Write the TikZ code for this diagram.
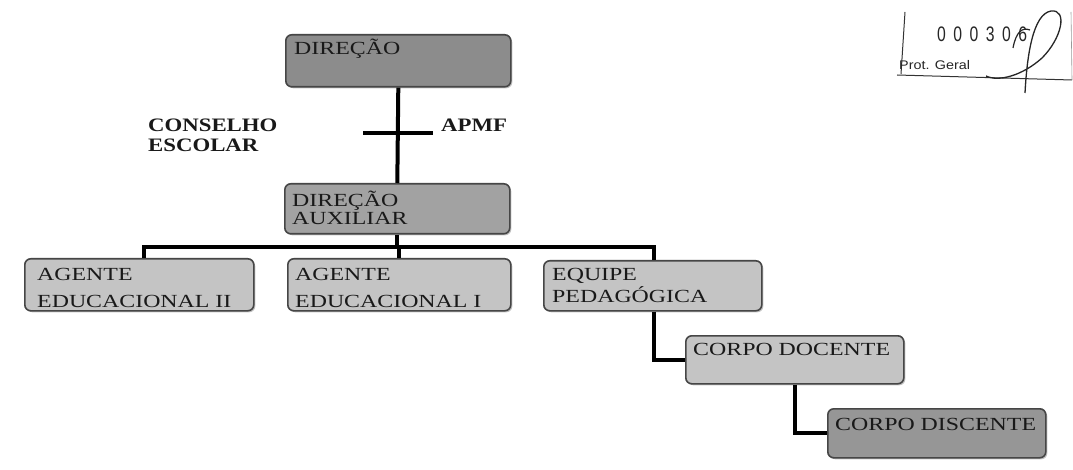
\documentclass[tikz,border=0pt]{standalone}
\usepackage{fontspec}
\setmainfont{Liberation Serif}
\newfontfamily\boxfont[FakeStretch=1.29]{Liberation Serif}
\newfontfamily\lblfont[FakeStretch=1.2]{Liberation Serif}
\newfontfamily\stampfont[FakeStretch=0.75]{Liberation Sans}
\newfontfamily\protfont[FakeStretch=1.15]{Liberation Sans}
\usetikzlibrary{shadows}
\definecolor{gdark}{RGB}{140,140,140}
\definecolor{gmid}{RGB}{162,162,162}
\definecolor{glight}{RGB}{196,196,196}
\definecolor{gdisc}{RGB}{150,150,150}
\definecolor{edge}{RGB}{70,70,70}
\tikzset{
  orgbox/.style={draw=edge, line width=1.6pt, rounded corners=6pt, anchor=north west,
    inner sep=0pt, drop shadow={shadow xshift=1.5pt, shadow yshift=-1.5pt, opacity=.45}},
  boxtext/.style={anchor=base west, inner sep=0pt, align=left,
    font=\boxfont\fontsize{18.5}{21.5}\selectfont, text=black!90},
  lbltext/.style={anchor=base west, inner sep=0pt, align=left,
    font=\lblfont\bfseries\fontsize{19}{20}\selectfont, text=black!90},
  link/.style={line width=4pt, black},
  stampline/.style={line width=1pt, black!80},
}
\begin{document}
\begin{tikzpicture}[x=1pt,y=-1pt]
\useasboundingbox (0,0) rectangle (1073,470);
\fill[white] (0,0) rectangle (1073,470);

% boxes
\node[orgbox, fill=gdark,  minimum width=225pt, minimum height=52pt] (dir)  at (285,34)  {};
\node[orgbox, fill=gmid,   minimum width=225pt, minimum height=50pt] (aux)  at (284,183) {};
\node[orgbox, fill=glight, minimum width=229pt, minimum height=52pt] (ag2)  at (24,258)  {};
\node[orgbox, fill=glight, minimum width=223pt, minimum height=52pt] (ag1)  at (287,258) {};
\node[orgbox, fill=glight, minimum width=218pt, minimum height=50pt] (eq)   at (543,260) {};
\node[orgbox, fill=glight, minimum width=218pt, minimum height=48pt] (doc)  at (685,335) {};
\node[orgbox, fill=gdisc,  minimum width=218pt, minimum height=49pt] (disc) at (827,408) {};

% box texts (anchor = baseline of last line)
\node[boxtext] (dirt)  at (294,55)  {DIREÇÃO};
\node[boxtext] (auxt)  at (292,225) {DIREÇÃO\\[-3.5pt]AUXILIAR};
\node[boxtext] (ag2t)  at (37,307)  {AGENTE\\[5.5pt]EDUCACIONAL II};
\node[boxtext] (ag1t)  at (295,307) {AGENTE\\[5.5pt]EDUCACIONAL I};
\node[boxtext] (eqt)   at (552,302) {EQUIPE\\PEDAGÓGICA};
\node[boxtext] (doct)  at (693,355) {CORPO DOCENTE};
\node[boxtext] (disct) at (835,430) {CORPO DISCENTE};

% side labels
\node[lbltext] (cons) at (148,152) {CONSELHO\\ESCOLAR};
\node[lbltext] (apmf) at (441,132) {APMF};

% connectors
\coordinate (crossL) at (363,133);
\coordinate (crossR) at (433,133);
\coordinate (bus) at (398,247);
\draw[link] (dir.south) -- (aux.north);
\draw[link] (crossL) -- (crossR);
\draw[link] (aux.south) -- (aux.south |- bus);
\draw[link] ([xshift=5pt]ag2.north) |- (bus) -| ([xshift=1.5pt]eq.north);
\draw[link] (ag1.north) -- (ag1.north |- bus);
\draw[link] ([xshift=1.5pt]eq.south) |- (doc.west);
\draw[link] (doc.south) |- (disc.west);

% stamp
\coordinate (stTL) at (905,12);
\coordinate (stBL) at (901,74);
\coordinate (stBR) at (1072,80);
\coordinate (stTR) at (1071,12);
\draw[stampline] (stTL) -- (stBL);
\draw[stampline] (897,75) -- (stBR);
\draw[stampline, black!40, line width=.6pt] (stTR) -- (stBR);
\node[anchor=base west, inner sep=0pt, font=\stampfont\fontsize{21}{21}\selectfont, text=black!85]
  (num) at (937,42) {0\kern7.5pt0\kern7.5pt0\kern7.5pt3\kern7.5pt0\kern7.5pt6};
\node[anchor=base west, inner sep=0pt, font=\protfont\fontsize{12.5}{13}\selectfont, text=black!85]
  (prot) at (899,70) {Prot. Geral};
% signature
\draw[line width=1.3pt, black!85]
  (1025,93) .. controls (1027,55) and (1033,14) .. (1051,11)
  .. controls (1068,9) and (1062,38) .. (1042,58)
  .. controls (1022,76) and (998,82) .. (986,76);
\draw[line width=1.2pt, black!85]
  (1013,48) .. controls (1016,32) and (1022,27) .. (1030,30);
\end{tikzpicture}
\end{document}
